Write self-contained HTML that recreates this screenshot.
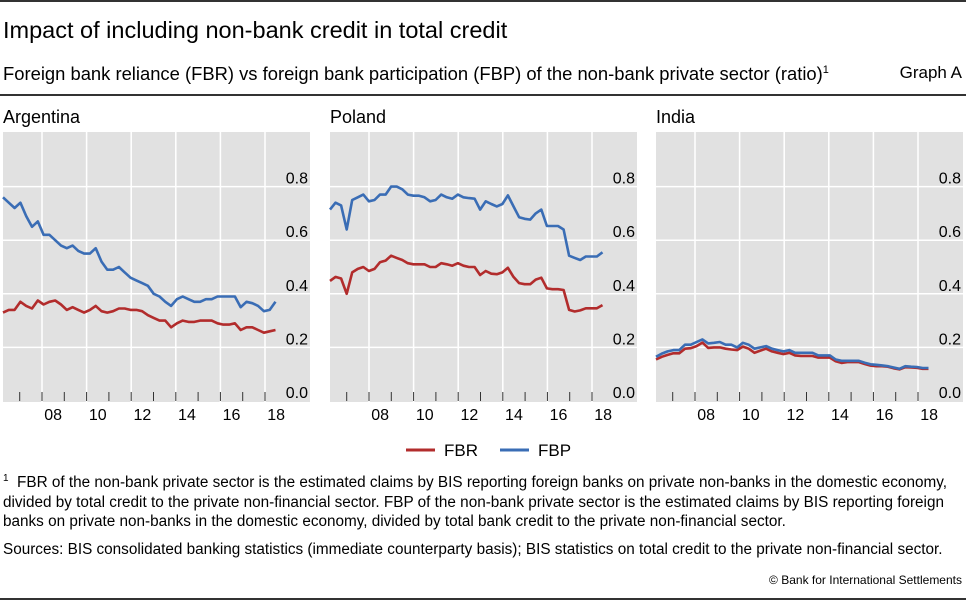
<!DOCTYPE html>
<html><head><meta charset="utf-8"><style>
body{margin:0;width:966px;height:601px;background:#fff;font-family:"Liberation Sans",sans-serif;color:#000;position:relative;overflow:hidden}
.a{position:absolute;white-space:nowrap}
.hr{position:absolute;left:0;width:966px;background:#333}
</style></head><body>
<div class="hr" style="top:0;height:2px"></div>
<div class="a" style="left:3px;top:17px;font-size:23.5px">Impact of including non-bank credit in total credit</div>
<div class="a" style="left:3px;top:63px;font-size:18.4px">Foreign bank reliance (FBR) vs foreign bank participation (FBP) of the non-bank private sector (ratio)<sup style="font-size:11px">1</sup></div>
<div class="a" style="right:4px;top:63px;font-size:17px">Graph A</div>
<div class="hr" style="top:94px;height:2px"></div>
<svg id="chart" width="966" height="370" style="position:absolute;left:0;top:100px"></svg>
<div class="a" style="left:3px;top:469px;font-size:15.3px;line-height:19.5px;white-space:normal;width:962px"><sup style="font-size:10px">1</sup>&nbsp; FBR of the non-bank private sector is the estimated claims by BIS reporting foreign banks on private non-banks in the domestic economy, divided by total credit to the private non-financial sector. FBP of the non-bank private sector is the estimated claims by BIS reporting foreign banks on private non-banks in the domestic economy, divided by total bank credit to the private non-financial sector.</div>
<div class="a" style="left:3px;top:541px;font-size:15.3px">Sources: BIS consolidated banking statistics (immediate counterparty basis); BIS statistics on total credit to the private non-financial sector.</div>
<div class="a" style="right:4px;top:573px;font-size:12px">© Bank for International Settlements</div>
<div class="hr" style="top:598px;height:2px"></div>
<script>
const panels = ["Argentina","Poland","India"];
const yTicks = [0.0,0.2,0.4,0.6,0.8];
const xLabels = ["08","10","12","14","16","18"];
const argFBP = [0.76,0.74,0.72,0.74,0.69,0.65,0.67,0.62,0.62,0.60,0.58,0.57,0.58,0.56,0.55,0.55,0.57,0.52,0.49,0.49,0.50,0.48,0.46,0.45,0.44,0.43,0.40,0.39,0.37,0.355,0.38,0.39,0.38,0.37,0.37,0.38,0.38,0.39,0.39,0.39,0.39,0.35,0.37,0.365,0.355,0.335,0.34,0.37];
const argFBR = [0.33,0.34,0.34,0.37,0.355,0.345,0.375,0.36,0.37,0.375,0.36,0.34,0.35,0.34,0.33,0.34,0.355,0.335,0.33,0.335,0.345,0.345,0.34,0.34,0.335,0.32,0.31,0.30,0.30,0.275,0.29,0.30,0.295,0.295,0.30,0.30,0.30,0.29,0.285,0.285,0.29,0.265,0.275,0.275,0.265,0.255,0.26,0.265];
const polFBP = [0.714,0.74,0.73,0.64,0.75,0.76,0.77,0.745,0.75,0.77,0.77,0.80,0.80,0.79,0.77,0.766,0.766,0.76,0.745,0.75,0.77,0.76,0.755,0.77,0.76,0.757,0.755,0.714,0.745,0.735,0.726,0.735,0.767,0.726,0.686,0.68,0.677,0.70,0.714,0.653,0.653,0.653,0.64,0.542,0.534,0.526,0.539,0.539,0.539,0.555];
const polFBR = [0.448,0.463,0.457,0.40,0.48,0.493,0.50,0.485,0.493,0.518,0.524,0.542,0.534,0.526,0.514,0.51,0.51,0.51,0.50,0.50,0.514,0.51,0.505,0.514,0.505,0.50,0.50,0.47,0.485,0.475,0.473,0.48,0.497,0.463,0.44,0.436,0.436,0.453,0.46,0.42,0.417,0.417,0.414,0.34,0.334,0.338,0.346,0.346,0.346,0.358];
const indFBP = [0.165,0.177,0.185,0.19,0.19,0.21,0.21,0.22,0.23,0.215,0.217,0.22,0.21,0.21,0.20,0.217,0.21,0.195,0.20,0.205,0.195,0.19,0.185,0.19,0.18,0.18,0.18,0.18,0.17,0.17,0.17,0.155,0.15,0.15,0.15,0.15,0.143,0.137,0.135,0.133,0.13,0.125,0.12,0.13,0.128,0.127,0.123,0.123];
const indFBR = [0.155,0.165,0.172,0.178,0.178,0.195,0.197,0.205,0.218,0.198,0.200,0.200,0.195,0.192,0.190,0.203,0.195,0.180,0.188,0.195,0.185,0.180,0.175,0.180,0.170,0.168,0.168,0.168,0.162,0.162,0.162,0.148,0.142,0.145,0.145,0.145,0.138,0.132,0.130,0.130,0.128,0.122,0.118,0.126,0.125,0.124,0.120,0.120];
const series = [[argFBR,argFBP],[polFBR,polFBP],[indFBR,indFBP]];
const startYear = 2006.25, endYear = 2018.47;

const NS="http://www.w3.org/2000/svg";
const svg=document.getElementById('chart');
function mk(t,a,p){const e=document.createElementNS(NS,t);for(const k in a)e.setAttribute(k,a[k]);(p||svg).appendChild(e);return e;}
const OFF=[0,327,653];
const PTOP=32,PBOT=302;
function yS(v){return 301-v*268;}
panels.forEach((name,pi)=>{
  const ox=OFF[pi];
  const xS=yr=>ox+42+(yr-2008)*22.3;
  const g=mk('g',{});
  
  
  const t=mk('text',{x:ox+3,y:23,'font-size':18,'font-family':'Liberation Sans, sans-serif'},g);t.textContent=name;
  
  
  const bg=mk('rect',{x:ox+3,y:PTOP,width:307,height:PBOT-PTOP,fill:'#e1e1e1'},g);
  
  
  yTicks.forEach(v=>{
    if(v>0){const l=mk('line',{x1:ox+3,x2:ox+310,y1:yS(v),y2:yS(v),stroke:'#fff','stroke-width':1.5},g);
      
      }
    const tx=mk('text',{x:ox+308,y:yS(v)-3,'font-size':16,'text-anchor':'end','font-family':'Liberation Sans, sans-serif'},g);
    tx.textContent=v.toFixed(1);
    
    
  });
  for(let yr=2007;yr<=2018;yr++){
    if(yr%2===0){const l=mk('line',{x1:xS(yr),x2:xS(yr),y1:PTOP,y2:PBOT,stroke:'#fff','stroke-width':1.5},g);
      
      }
    const tk=mk('line',{x1:xS(yr),x2:xS(yr),y1:292,y2:301,stroke:'#333','stroke-width':1},g);
    
    
  }
  xLabels.forEach(lb=>{
    const yr=2000+parseInt(lb,10);
    const tx=mk('text',{x:xS(yr+0.5),y:320,'font-size':16,'text-anchor':'middle','font-family':'Liberation Sans, sans-serif'},g);
    tx.textContent=lb;
    
    
  });
  const cols=['#b22c2c','#3a6db5'];
  series[pi].forEach((arr,si)=>{
    const step=(endYear-startYear)/(arr.length-1);
    const pts=arr.map((v,i)=>xS(startYear+i*step).toFixed(1)+','+yS(v).toFixed(1)).join(' ');
    const pl=mk('polyline',{points:pts,fill:'none',stroke:cols[si],'stroke-width':2.6,'stroke-linejoin':'round'},g);
    
    
  });
});
const lg=mk('g',{});


[['FBR','#b22c2c',406],['FBP','#3a6db5',500]].forEach(([n,c,x])=>{
  const e=mk('g',{},lg);
  
  
  mk('line',{x1:x,x2:x+29,y1:350,y2:350,stroke:c,'stroke-width':3},e);
  const t=mk('text',{x:x+38,y:356,'font-size':17,'font-family':'Liberation Sans, sans-serif'},e);t.textContent=n;
});
</script>
</body></html>
